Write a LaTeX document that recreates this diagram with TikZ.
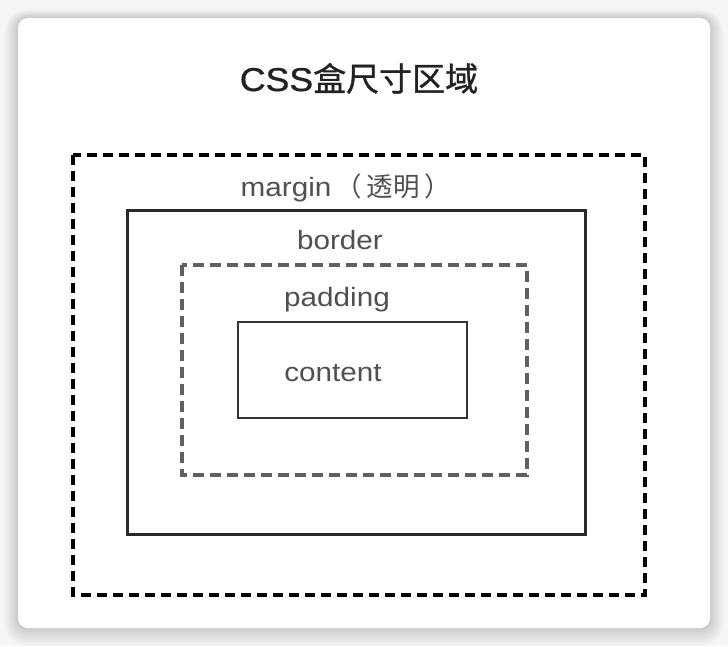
\documentclass[tikz,border=0pt]{standalone}
\usepackage{fontspec}
\setmainfont{Liberation Sans}
\newfontfamily\cjk{Noto Sans CJK SC}
\newfontfamily\cjkb[FakeBold=1]{Noto Sans CJK SC}
\newfontfamily\lat[FakeStretch=1.12]{Liberation Sans}
\newfontfamily\latb[FakeStretch=1.08,FakeBold=1]{Liberation Sans}
\definecolor{bgout}{HTML}{F6F6F6}
\definecolor{titlecol}{HTML}{222222}
\definecolor{labelcol}{HTML}{505050}
\definecolor{bordcol}{HTML}{2A2A2A}
\definecolor{padcol}{HTML}{606060}
\definecolor{contcol}{HTML}{333333}
\tikzset{
  marginbox/.style={draw=black, line width=3.4pt, dash pattern=on 10pt off 6pt},
  borderbox/.style={draw=bordcol, line width=3pt},
  paddingbox/.style={draw=padcol, line width=3.2pt, dash pattern=on 11pt off 6pt},
  contentbox/.style={draw=contcol, line width=2.8pt},
  lbl/.style={text=labelcol, font=\lat\fontsize{26.5}{29}\selectfont, inner sep=0pt, anchor=base},
}
\begin{document}
\begin{tikzpicture}[x=1pt,y=-1pt]
\useasboundingbox (0,0) rectangle (728,646);
\fill[bgout] (0,0) rectangle (728,646);
% shadow
\foreach \i in {1,...,14}{
  \fill[black, opacity=0.01, rounded corners=10pt+\i pt] (18-\i,18-\i*0.6) rectangle (710+\i,628+\i*1.3);
}
\fill[white, rounded corners=10pt] (18,18) rectangle (710,628);
% title
\node[text=titlecol, font=\fontsize{33}{36}\selectfont, inner sep=0pt, anchor=base] (title) at (359,91) {{\latb CSS}{\cjkb 盒尺寸区域}};
% boxes
\draw[marginbox] (73,155) rectangle (645,595);
\draw[borderbox] (127,210) rectangle (585,534);
\draw[paddingbox] (182,265) rectangle (527,475);
\draw[contentbox] (238,322) rectangle (467,418);
% labels
\node[lbl] (marginlbl) at (346,196) {margin\hspace{4pt}{\cjk（\hspace{5pt}透明\hspace{5pt}）}};
\node[lbl] (borderlbl) at (340,249) {border};
\node[lbl] (paddinglbl) at (337,306) {padding};
\node[lbl] (contentlbl) at (333,381) {content};
\end{tikzpicture}
\end{document}
